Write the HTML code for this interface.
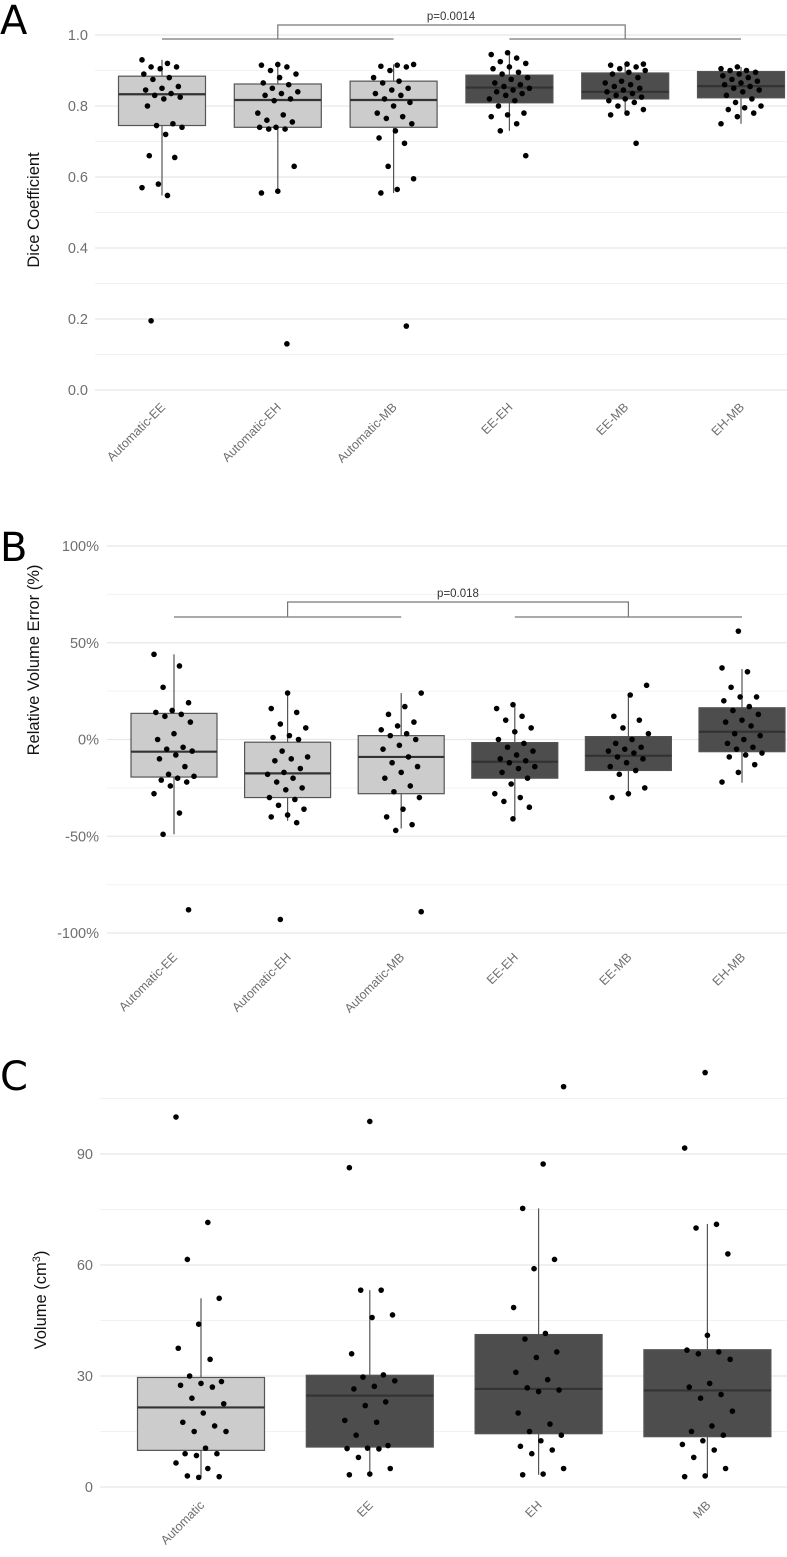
<!DOCTYPE html>
<html><head><meta charset="utf-8"><style>
html,body{margin:0;padding:0;background:#fff}
svg{display:block;font-family:"Liberation Sans",sans-serif}
</style></head><body>
<svg id="chart" width="787" height="1557" viewBox="0 0 787 1557"></svg>
<script>
// ---------- Panel A data ----------
const catsA = ["Automatic-EE","Automatic-EH","Automatic-MB","EE-EH","EE-MB","EH-MB"];
const darkA = [false,false,false,true,true,true];
const q1A = [0.745,0.740,0.740,0.809,0.820,0.823];
const medA = [0.833,0.817,0.817,0.852,0.840,0.856];
const q3A = [0.884,0.862,0.870,0.887,0.893,0.897];
const loA = [0.548,0.553,0.555,0.730,0.777,0.750];
const hiA = [0.930,0.917,0.917,0.950,0.918,0.910];
const ticksA = [0.0,0.2,0.4,0.6,0.8,1.0];
const tickLabelsA = ["0.0","0.2","0.4","0.6","0.8","1.0"];
const ptsA = [
 [0.93,0.92,0.91,0.91,0.905,0.89,0.88,0.875,0.855,0.85,0.845,0.835,0.83,0.825,0.82,0.80,0.75,0.745,0.74,0.72,0.66,0.655,0.58,0.57,0.548,0.195],
 [0.917,0.915,0.91,0.90,0.89,0.88,0.865,0.86,0.85,0.84,0.835,0.83,0.82,0.815,0.78,0.775,0.76,0.755,0.74,0.74,0.735,0.735,0.63,0.56,0.555,0.13],
 [0.917,0.915,0.912,0.91,0.90,0.88,0.87,0.865,0.85,0.845,0.835,0.83,0.82,0.81,0.8,0.78,0.77,0.765,0.75,0.73,0.71,0.695,0.63,0.595,0.565,0.555,0.18],
 [0.95,0.945,0.935,0.925,0.92,0.91,0.905,0.895,0.89,0.88,0.875,0.865,0.86,0.855,0.85,0.845,0.84,0.835,0.83,0.82,0.815,0.80,0.78,0.775,0.77,0.75,0.73,0.66],
 [0.918,0.918,0.915,0.91,0.905,0.9,0.895,0.89,0.88,0.87,0.865,0.86,0.855,0.85,0.845,0.84,0.835,0.83,0.825,0.82,0.815,0.81,0.8,0.79,0.78,0.775,0.695],
 [0.91,0.905,0.9,0.9,0.895,0.89,0.885,0.88,0.875,0.87,0.865,0.86,0.855,0.85,0.845,0.84,0.83,0.82,0.81,0.8,0.795,0.79,0.78,0.77,0.75]
];
// ---------- Panel B data ----------
const catsB = catsA;
const q1B = [-19.4,-30,-28,-20,-16,-6.3];
const medB = [-6.3,-17.5,-9,-11.5,-8.4,4];
const q3B = [13.5,-1.4,2,-1.6,1.5,16.4];
const loB = [-49,-42,-46,-40.6,-29.6,-22.3];
const hiB = [44,24,24,18,23,36.4];
const ticksB = [-100,-50,0,50,100];
const tickLabelsB = ["-100%","-50%","0%","50%","100%"];
const ptsB = [
 [44,38,27,19,15,14,13,12,9,3,0,-4,-5,-6,-8,-10,-14,-18,-19,-20,-21,-22,-24,-28,-38,-49,-88],
 [24,16,14,8,6,2,1,0,-6,-9,-10,-11,-15,-17,-18,-20,-22,-25,-26,-30,-31,-34,-36,-39,-40,-43,-93],
 [24,17,13,9,7,5,3,2,0,-3,-5,-9,-12,-14,-17,-20,-24,-27,-30,-36,-40,-44,-47,-89],
 [18,16,12,10,6,4,0,-2,-4,-6,-8,-10,-11,-12,-14,-15,-17,-20,-23,-28,-30,-32,-35,-41],
 [28,23,12,10,6,3,0,-2,-4,-5,-6,-7,-9,-10,-12,-14,-16,-18,-25,-28,-30],
 [56,37,35,27,22,22,20,17,15,13,10,9,7,3,2,0,-2,-4,-5,-7,-8,-9,-13,-17,-22]
];
// ---------- Panel C data ----------
const catsC = ["Automatic","EE","EH","MB"];
const darkC = [false,true,true,true];
const q1C = [9.9,10.8,14.4,13.6];
const medC = [21.5,24.7,26.5,26.1];
const q3C = [29.6,30.2,41.2,37.1];
const loC = [2.6,3.3,3.3,2.8];
const hiC = [51,53.2,75.3,71.1];
const ticksC = [0,30,60,90];
const tickLabelsC = ["0","30","60","90"];
const ptsC = [
 [100,71.5,61.5,51,44,37.5,34.5,30,28.5,28,27.5,27,24,22.5,20,17.5,16.5,15,15,10.5,9,9,8.5,6.5,5,3,2.8,2.6],
 [98.8,86.3,53.2,53.2,46.5,45.8,36,30.3,29.7,28.7,27.2,26.5,23,22,18,17.5,14,11.2,10.5,10.4,10.3,8,5,3.5,3.3],
 [108.2,87.3,75.3,61.5,59,48.5,41.5,40,36.5,35,31,29,26.8,26.2,25.8,20,17,15,14,12.5,11,10,9,5,3.5,3.3],
 [112,91.6,71,70,63,41,37,36.5,36,34.5,28,27,25,24,20.5,16.5,15,14,12.5,11.5,10,8,5,3,2.8]
];

const NS="http://www.w3.org/2000/svg";
const svg=document.getElementById('chart');
function mk(tag,attrs,parent,text){const e=document.createElementNS(NS,tag);for(const k in attrs)e.setAttribute(k,attrs[k]);if(text!==undefined)e.textContent=text;(parent||svg).appendChild(e);return e;}

function panel(o){
  const g=mk('g',{});
  
  
  const y=v=>o.y0+(v-o.v0)*(o.y1-o.y0)/(o.v1-o.v0);
  const x=i=>o.c0+i*o.step;
  o.minor.forEach(v=>{const l=mk('line',{x1:o.gx,x2:787,y1:y(v),y2:y(v),stroke:'#f2f2f2','stroke-width':1},g);
    });
  o.ticks.forEach((v,i)=>{const l=mk('line',{x1:o.gx,x2:787,y1:y(v),y2:y(v),stroke:'#e8e8e8','stroke-width':1.2},g);
    
    const t=mk('text',{x:o.tx,y:y(v)+5,'text-anchor':'end','font-size':14.5,fill:'#6e6e6e'},g,o.tickLabels[i]);
    });
  o.cats.forEach((c,i)=>{
    const cx=x(i), w=o.bw;
    const bg=mk('g',{},g);
    
    
    const fill=o.dark[i]?'#4d4d4d':'#cccccc';
    mk('line',{x1:cx,x2:cx,y1:y(o.hi[i]),y2:y(o.q3[i]),stroke:'#555','stroke-width':1.2},bg);
    mk('line',{x1:cx,x2:cx,y1:y(o.q1[i]),y2:y(o.lo[i]),stroke:'#555','stroke-width':1.2},bg);
    mk('rect',{x:cx-w/2,y:y(o.q3[i]),width:w,height:y(o.q1[i])-y(o.q3[i]),fill:fill,stroke:'#555','stroke-width':1.2},bg);
    mk('line',{x1:cx-w/2,x2:cx+w/2,y1:y(o.med[i]),y2:y(o.med[i]),stroke:'#333','stroke-width':2.2},bg);
    o.pts[i].forEach((v,k)=>{
      const j=(((k*37+i*11)%23)/22-0.5)*o.jit;
      const p=mk('circle',{cx:cx+j,cy:y(v),r:2.8,fill:'#000'},bg);
      
      
    });
    const tx=cx+4, ty=o.ly;
    const lt=mk('text',{x:tx,y:ty,'text-anchor':'end','font-size':12.5,fill:'#6e6e6e',transform:`rotate(-45 ${tx} ${ty})`},g,c);
    
  });
  const at=mk('text',{x:o.atx,y:o.aty,'text-anchor':'middle','font-size':16.5,fill:'#111',transform:`rotate(-90 ${o.atx} ${o.aty})`},g,o.title);
  
  if(o.sup){mk('tspan',{'font-size':11,dy:-6},at,'3');mk('tspan',{dy:6},at,')');}
  const pl=mk('text',{x:0,y:o.lety,'font-size':40,fill:'#000','font-family':'DejaVu Sans, sans-serif'},g,o.letter);
  
  return {x,y,g};
}
function bracket(P,a,b,c,d,yl,yt,label,lx){
  const g=mk('g',{},P.g);
  
  
  const m1=(P.x(a)+P.x(b))/2, m2=(P.x(c)+P.x(d))/2;
  mk('path',{d:`M${P.x(a)},${yl}H${P.x(b)}M${P.x(c)},${yl}H${P.x(d)}M${m1},${yl}V${yt}H${m2}V${yl}`,fill:'none',stroke:'#777','stroke-width':1.2},g);
  const t=mk('text',{x:lx,y:yt-5,'font-size':11.5,fill:'#333','text-anchor':'middle'},g,label);
  
}

const PA=panel({name:'panel-a-dice',cats:catsA,dark:darkA,q1:q1A,med:medA,q3:q3A,lo:loA,hi:hiA,pts:ptsA,
  ticks:ticksA,tickLabels:tickLabelsA,minor:[0.1,0.3,0.5,0.7,0.9],v0:0,v1:1,y0:390,y1:35,c0:162,step:115.8,bw:87,jit:40,
  gx:95,tx:88,ly:408,title:'Dice Coefficient',atx:39,aty:210,letter:'A',lety:34});
bracket(PA,0,2,3,5,39,25,'p=0.0014',451);

const PB=panel({name:'panel-b-volume-error',cats:catsB,dark:darkA,q1:q1B,med:medB,q3:q3B,lo:loB,hi:hiB,pts:ptsB,
  ticks:ticksB,tickLabels:tickLabelsB,minor:[-75,-25,25,75],v0:0,v1:100,y0:739.5,y1:546,c0:174,step:113.6,bw:86,jit:40,
  gx:107,tx:99,ly:958,title:'Relative Volume Error (%)',atx:39,aty:660,letter:'B',lety:561});
bracket(PB,0,2,3,5,617,602,'p=0.018',458);

const PC=panel({name:'panel-c-volume',cats:catsC,dark:darkC,q1:q1C,med:medC,q3:q3C,lo:loC,hi:hiC,pts:ptsC,
  ticks:ticksC,tickLabels:tickLabelsC,minor:[15,45,75,105],v0:0,v1:90,y0:1487,y1:1154,c0:201,step:168.8,bw:127,jit:50,
  gx:100,tx:93,ly:1506,title:'Volume (cm',sup:true,atx:46,aty:1300,letter:'C',lety:1090});
</script>
</body></html>
